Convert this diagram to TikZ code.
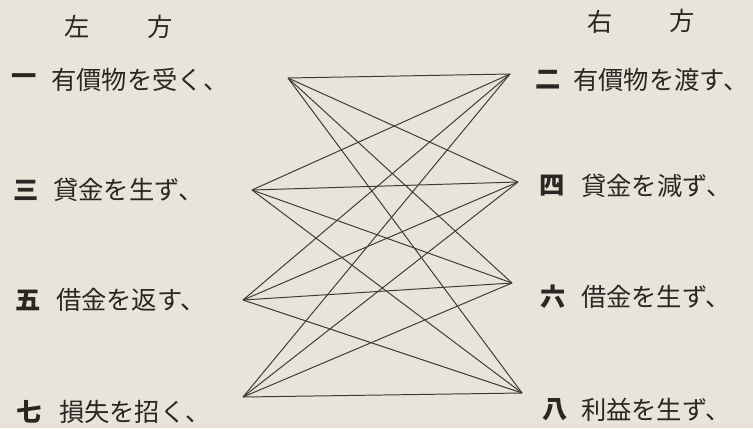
\documentclass[tikz,border=0pt]{standalone}
\usepackage{fontspec}
\newfontfamily\jafont{Noto Sans CJK JP}
\usetikzlibrary{positioning}

\begin{document}
\begin{tikzpicture}[x=0.025cm, y=-0.025cm,
    label/.style={inner sep=0pt, text=inkcolor, font=\jafont\fontsize{18}{21}\selectfont},
    numeral/.style={label, font=\jafont\bfseries\fontsize{18}{21}\selectfont},
    item/.style={label, anchor=west},
    link/.style={draw=linecolor, line width=0.7pt}]
        % Define colors
        \definecolor{papercolor}{RGB}{233, 228, 218} % Old paper
        \definecolor{inkcolor}{RGB}{42, 38, 35}      % Printing ink
        \definecolor{linecolor}{RGB}{62, 58, 54}     % Grey lines

        % Paper background
        \useasboundingbox (0,0) rectangle (753,428);
        \fill[papercolor] (0,0) rectangle (753,428);

        % Headings
        \node[label] (leftA) at (77,27) {左};
        \node[label] (leftB) at (160,27) {方};
        \node[label] (rightA) at (600,22) {右};
        \node[label] (rightB) at (682,21) {方};

        % Left side items
        \node[numeral] (n1) at (24,80) {一};
        \node[item, right=0.35cm of n1] (t1) {有價物を受く、};
        \node[numeral] (n3) at (26,190) {三};
        \node[item, right=0.35cm of n3] (t3) {貸金を生ず、};
        \node[numeral] (n5) at (28,300) {五};
        \node[item, right=0.37cm of n5] (t5) {借金を返す、};
        \node[numeral] (n7) at (29,412) {七};
        \node[item, right=0.42cm of n7] (t7) {損失を招く、};

        % Right side items
        \node[numeral] (n2) at (548,80) {二};
        \node[item, right=0.3cm of n2] (t2) {有價物を渡す、};
        \node[numeral] (n4) at (552,186) {四};
        \node[item, right=0.4cm of n4] (t4) {貸金を減ず、};
        \node[numeral] (n6) at (553,297) {六};
        \node[item, right=0.37cm of n6] (t6) {借金を生ず、};
        \node[numeral] (n8) at (555,410) {八};
        \node[item, right=0.32cm of n8] (t8) {利益を生ず、};

        % Line end points
        \coordinate (l1) at (288,78);
        \coordinate (l3) at (252,190);
        \coordinate (l5) at (243,300);
        \coordinate (l7) at (243,397);
        \coordinate (r2) at (510,74);
        \coordinate (r4) at (518,182);
        \coordinate (r6) at (512,283);
        \coordinate (r8) at (522,393);

        % Every left item joined to every right item
        \draw[link] (l1) -- (r2); % 1 to 2
        \draw[link] (l1) -- (r4); % 1 to 4
        \draw[link] (l1) -- (r6); % 1 to 6
        \draw[link] (l1) -- (r8); % 1 to 8

        \draw[link] (l3) -- (r2); % 3 to 2
        \draw[link] (l3) -- (r4); % 3 to 4
        \draw[link] (l3) -- (r6); % 3 to 6
        \draw[link] (l3) -- (r8); % 3 to 8

        \draw[link] (l5) -- (r2); % 5 to 2
        \draw[link] (l5) -- (r4); % 5 to 4
        \draw[link] (l5) -- (r6); % 5 to 6
        \draw[link] (l5) -- (r8); % 5 to 8

        \draw[link] (l7) -- (r2); % 7 to 2
        \draw[link] (l7) -- (r4); % 7 to 4
        \draw[link] (l7) -- (r6); % 7 to 6
        \draw[link] (l7) -- (r8); % 7 to 8

    \end{tikzpicture}
\end{document}
